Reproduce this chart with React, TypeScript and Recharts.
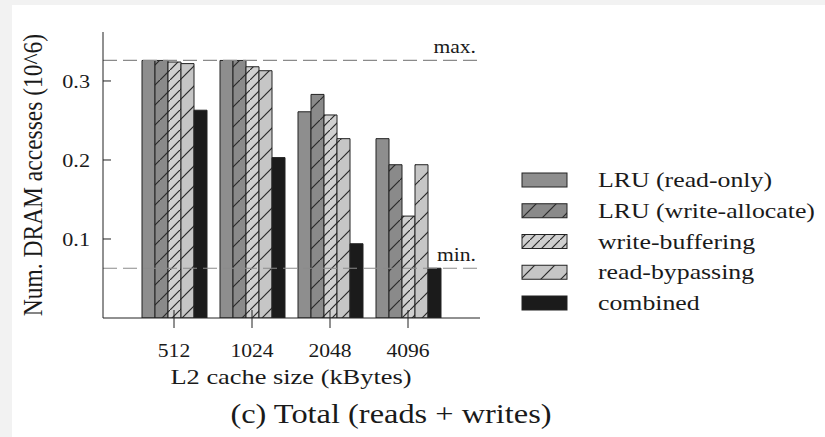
import { BarChart, Bar, XAxis, YAxis, ReferenceLine } from 'recharts';

const categories = ['512', '1024', '2048', '4096'];
const lruReadOnly = [0.326, 0.326, 0.261, 0.227];
const lruWriteAllocate = [0.326, 0.326, 0.283, 0.194];
const writeBuffering = [0.324, 0.318, 0.257, 0.129];
const readBypassing = [0.322, 0.313, 0.227, 0.194];
const combined = [0.263, 0.203, 0.094, 0.063];
const yTicks = [0.1, 0.2, 0.3];
const maxValue = 0.326;
const minValue = 0.063;

const series = [
  { key: 'lruReadOnly', name: 'LRU (read-only)', fill: '#8e8e8e' },
  { key: 'lruWriteAllocate', name: 'LRU (write-allocate)', fill: 'url(#hatchWide)' },
  { key: 'writeBuffering', name: 'write-buffering', fill: 'url(#hatchDense)' },
  { key: 'readBypassing', name: 'read-bypassing', fill: 'url(#hatchLight)' },
  { key: 'combined', name: 'combined', fill: '#1b1b1b' },
];

const data = categories.map((size, i) => ({
  size,
  lruReadOnly: lruReadOnly[i],
  lruWriteAllocate: lruWriteAllocate[i],
  writeBuffering: writeBuffering[i],
  readBypassing: readBypassing[i],
  combined: combined[i],
}));

const FONT = '"Liberation Serif", "Times New Roman", serif';
const SX = 1.2; // the original figure is stretched sideways
const INK = '#1a1a1a';

function Patterns() {
  return (
    <svg width={0} height={0} style={{ position: 'absolute' }}>
      <defs>
        <pattern id="hatchWide" width={20} height={20} patternUnits="userSpaceOnUse">
          <rect width={20} height={20} fill="#8a8a8a" />
          <line x1={0} y1={20} x2={20} y2={0} stroke="#2a2a2a" strokeWidth={1.2} />
        </pattern>
        <pattern id="hatchDense" width={10} height={10} patternUnits="userSpaceOnUse">
          <rect width={10} height={10} fill="#d0d0d0" />
          <line x1={0} y1={10} x2={10} y2={0} stroke="#2a2a2a" strokeWidth={1.2} />
        </pattern>
        <pattern id="hatchLight" width={20} height={20} patternUnits="userSpaceOnUse">
          <rect width={20} height={20} fill="#c6c6c6" />
          <line x1={0} y1={20} x2={20} y2={0} stroke="#2a2a2a" strokeWidth={1.2} />
        </pattern>
      </defs>
    </svg>
  );
}

function YTick(props: any) {
  const { x, y, payload } = props;
  return (
    <g>
      <line x1={x} y1={y} x2={x + 8} y2={y} stroke="#222" />
      <text
        transform={`translate(${x - 13},${y + 7}) scale(${SX},1)`}
        textAnchor="end"
        fontFamily={FONT}
        fontSize={18.5}
        fill={INK}
      >
        {payload.value}
      </text>
    </g>
  );
}

function XTick(props: any) {
  const { x, y, payload } = props;
  return (
    <g>
      <line x1={x} y1={y - 8} x2={x} y2={y + 10} stroke="#222" />
      <text
        transform={`translate(${x},${y + 39}) scale(${SX},1)`}
        textAnchor="middle"
        fontFamily={FONT}
        fontSize={18}
        fill={INK}
      >
        {payload.value}
      </text>
    </g>
  );
}

function lineLabel(text: string, dy: number) {
  return (props: any) => {
    const { viewBox } = props;
    const right = viewBox.x + viewBox.width;
    return (
      <text
        transform={`translate(${right - 4},${viewBox.y + dy}) scale(${SX},1)`}
        textAnchor="end"
        fontFamily={FONT}
        fontSize={18}
        fill={INK}
      >
        {text}
      </text>
    );
  };
}

export default function App() {
  return (
    <div style={{ position: 'absolute', left: 0, top: 0, width: 825, height: 437, background: '#f2f2f2', overflow: 'hidden' }}>
      <Patterns />
      <div style={{ position: 'absolute', left: 12, top: 5, width: 813, height: 432, background: '#fff' }} />
      <div style={{ position: 'absolute', left: 0, top: 0 }}>
        <BarChart
          width={500}
          height={437}
          data={data}
          margin={{ top: 32, right: 20, bottom: 89, left: 43 }}
          barCategoryGap={6}
          barGap={0}
        >
          <XAxis
            dataKey="size"
            height={30}
            padding={{ left: 32, right: 33 }}
            tickSize={0}
            tickMargin={0}
            tickLine={false}
            axisLine={{ stroke: '#222' }}
            tick={<XTick />}
            interval={0}
          />
          <YAxis
            width={60}
            domain={[0, 0.362]}
            ticks={yTicks}
            tickSize={0}
            tickMargin={0}
            tickLine={false}
            axisLine={{ stroke: '#222' }}
            tick={<YTick />}
            allowDataOverflow
          />
          {series.map((s) => (
            <Bar
              key={s.key}
              dataKey={s.key}
              name={s.name}
              fill={s.fill}
              stroke="#222"
              strokeWidth={1}
              barSize={13}
              isAnimationActive={false}
            />
          ))}
          <ReferenceLine y={maxValue} stroke="#8a8a8a" strokeWidth={1.2} strokeDasharray="14 6" label={lineLabel('max.', -7)} />
          <ReferenceLine y={minValue} stroke="#8a8a8a" strokeWidth={1.2} strokeDasharray="14 6" label={lineLabel('min.', -7)} />
        </BarChart>
      </div>
      <svg width={825} height={437} style={{ position: 'absolute', left: 0, top: 0, pointerEvents: 'none' }}>
        <text
          transform={`translate(42,175) scale(${SX},1) rotate(-90)`}
          textAnchor="middle"
          fontFamily={FONT}
          fontSize={23.5}
          fill={INK}
        >
          Num. DRAM accesses (10^6)
        </text>
        <text
          transform={`translate(291,384) scale(${SX},1)`}
          textAnchor="middle"
          fontFamily={FONT}
          fontSize={22}
          fill={INK}
        >
          L2 cache size (kBytes)
        </text>
        <text
          transform={`translate(391,423) scale(${SX},1)`}
          textAnchor="middle"
          fontFamily={FONT}
          fontSize={27}
          fill={INK}
        >
          (c) Total (reads + writes)
        </text>
        {series.map((s, i) => (
          <g key={s.key}>
            <rect x={522} y={173 + i * 30.75} width={45} height={14} fill={s.fill} stroke="#222" strokeWidth={1} />
            <text
              transform={`translate(598,${187 + i * 30.75}) scale(${SX},1)`}
              fontFamily={FONT}
              fontSize={21.5}
              fill={INK}
            >
              {s.name}
            </text>
          </g>
        ))}
      </svg>
    </div>
  );
}
